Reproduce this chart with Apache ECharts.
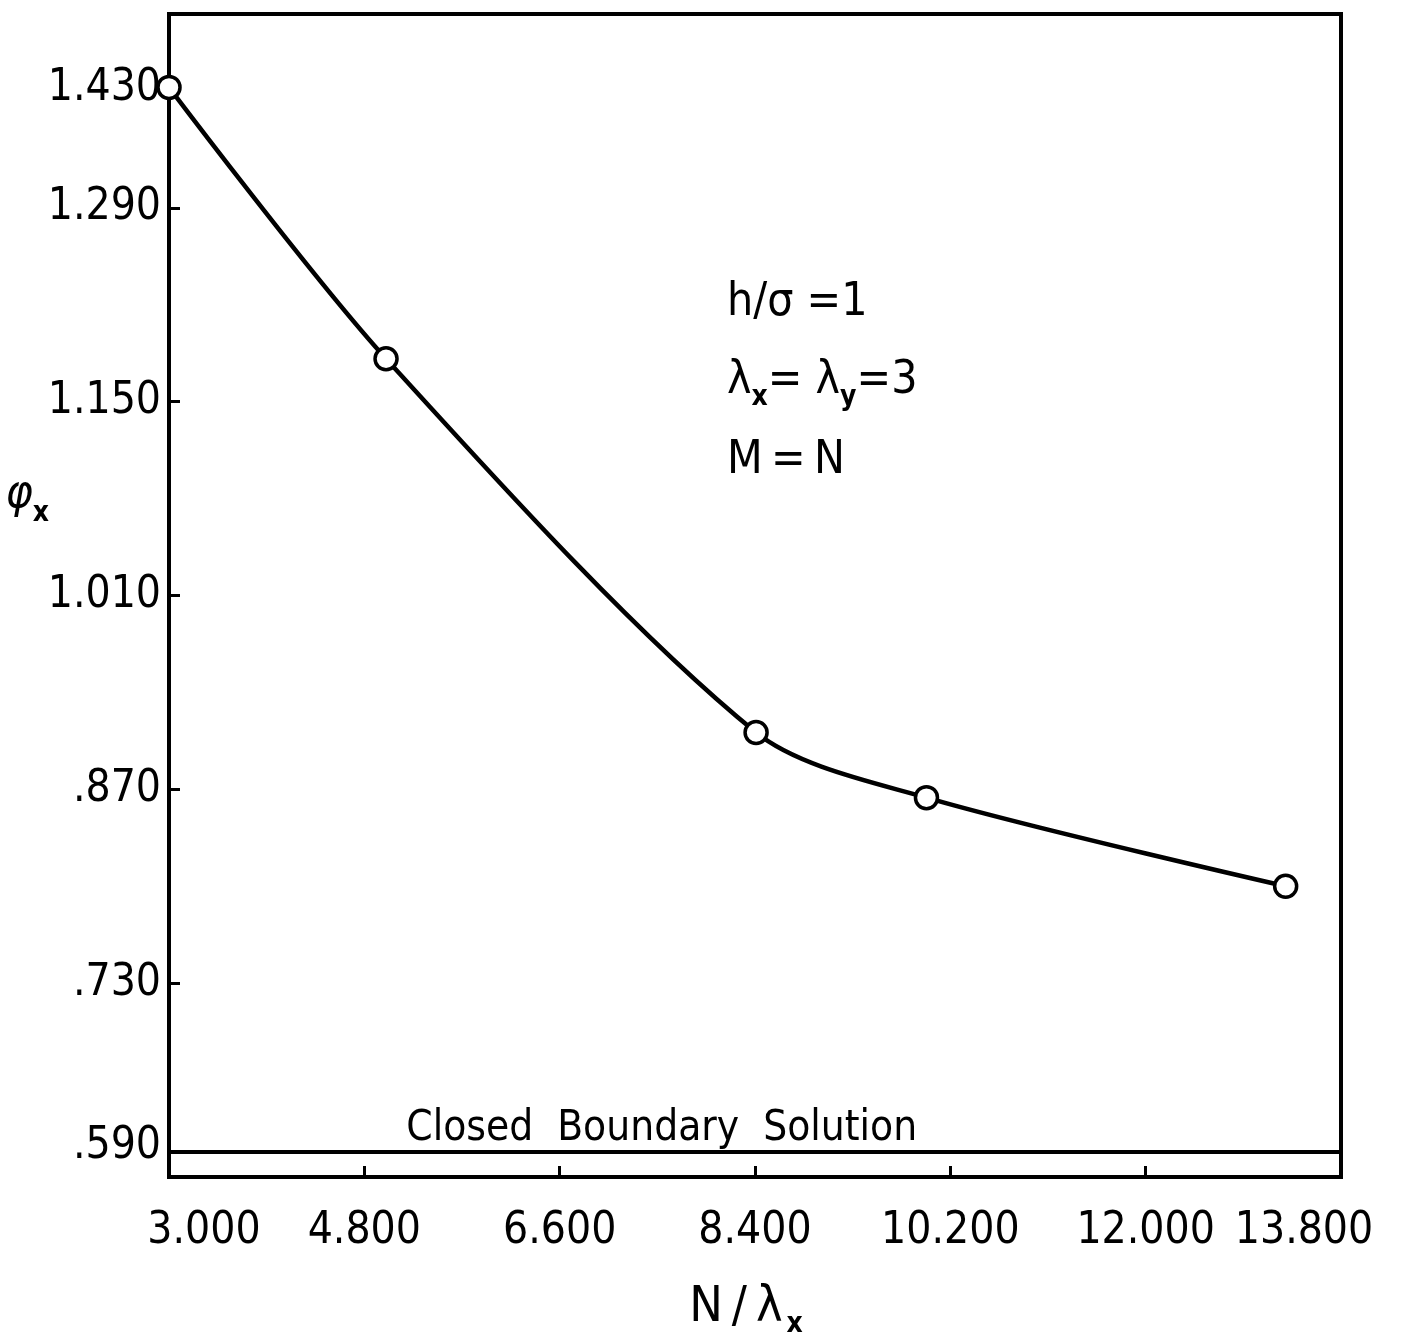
<!DOCTYPE html>
<html>
<head>
<meta charset="utf-8">
<script src="https://cdn.jsdelivr.net/npm/echarts@6/dist/echarts.min.js"></script>
<style>
html,body{margin:0;padding:0;background:#fff;}
#chart{width:1411px;height:1341px;}
</style>
</head>
<body>
<div id="chart"></div>
<script>
// ---- data ----
const nOverLambda = [3.0, 5.0, 8.41, 9.98, 13.29];
const phiX = [1.377, 1.181, 0.911, 0.864, 0.800];
const closedBoundary = 0.608;
const xTickLabels = ['3.000', '4.800', '6.600', '8.400', '10.200', '12.000', '13.800'];
const yTickLabels = ['.590', '.730', '.870', '1.010', '1.150', '1.290', '1.430'];
const annotations = ['h/σ =1', '{n|λ}{s|x}{n|= λ}{s|y}{n|=3}', 'M\u2009=\u2009N'];

const FONT = "'Liberation Sans Narrow','DejaVu Sans Condensed','Liberation Sans',sans-serif";
const FS = 44;

const chart = echarts.init(document.getElementById('chart'), null, {renderer: 'canvas'});

const curve = nOverLambda.map((x, i) => [x, phiX[i]]);
const boundary = [[3.0, closedBoundary], [13.8, closedBoundary]];

const option = {
  backgroundColor: '#fff',
  animation: false,
  grid: {left: 169, right: 70, top: 14, bottom: 164, containLabel: false, outerBoundsMode: 'none',
         show: true, borderColor: '#000', borderWidth: 4, backgroundColor: 'transparent'},
  xAxis: {
    type: 'value', min: 3.0, max: 13.8, interval: 1.8,
    axisLine: {show: false},
    splitLine: {show: false},
    axisTick: {show: true, inside: true, length: 11, lineStyle: {color: '#000', width: 3}},
    axisLabel: {
      margin: 33, color: '#000', fontFamily: FONT, fontSize: FS,
      formatter: function (v, i) {
        if (i === 0) return '{first|' + xTickLabels[i] + '}';
        if (i === xTickLabels.length - 1) return '{last|' + xTickLabels[i] + '}';
        return xTickLabels[i];
      },
      rich: {
        first: {fontFamily: FONT, fontSize: FS, color: '#000', padding: [0, 0, 0, 70]},
        last: {fontFamily: FONT, fontSize: FS, color: '#000', padding: [0, 74, 0, 0]}
      }
    },
    name: '{n|N\u2009/\u2009λ}{s|x}',
    nameLocation: 'middle',
    nameGap: 100,
    nameMoveOverlap: false,
    nameTextStyle: {
      rich: {
        n: {fontFamily: FONT, fontSize: 50, color: '#000'},
        s: {fontFamily: FONT, fontSize: 28, color: '#000', fontWeight: 'bold', padding: [34, 18, 0, 4]}
      }
    }
  },
  yAxis: {
    type: 'value', min: 0.59, max: 1.43, interval: 0.14,
    axisLine: {show: false},
    splitLine: {show: false},
    axisTick: {show: true, inside: true, length: 11, lineStyle: {color: '#000', width: 3}},
    axisLabel: {
      margin: 8, color: '#000', fontFamily: FONT, fontSize: FS,
      formatter: function (v, i) {
        if (i === 0) return '{bot|' + yTickLabels[i] + '}';
        if (i === yTickLabels.length - 1) return '{top|' + yTickLabels[i] + '}';
        return yTickLabels[i];
      },
      rich: {
        top: {fontFamily: FONT, fontSize: FS, color: '#000', padding: [150, 0, 0, 0]},
        bot: {fontFamily: FONT, fontSize: FS, color: '#000', padding: [0, 0, 60, 0]}
      }
    },
    name: '{n|φ}{s|x}',
    nameLocation: 'middle',
    nameRotate: 0,
    nameGap: 120,
    nameMoveOverlap: false,
    nameTextStyle: {
      rich: {
        n: {fontFamily: FONT, fontSize: 46, color: '#000', fontStyle: 'italic', padding: [0, 0, 200, 0]},
        s: {fontFamily: FONT, fontSize: 28, color: '#000', fontWeight: 'bold', padding: [0, 0, 164, 0]}
      }
    }
  },
  series: [
    {
      type: 'line',
      data: boundary,
      symbol: 'none',
      lineStyle: {color: '#000', width: 4},
      silent: true,
      z: 2
    },
    {
      type: 'scatter',
      data: [[7.54, closedBoundary]],
      symbolSize: 0,
      itemStyle: {opacity: 1},
      label: {
        show: true, position: 'top', distance: 2, opacity: 1,
        formatter: 'Closed  Boundary  Solution',
        fontFamily: FONT, fontSize: 42, color: '#000'
      },
      silent: true
    },
    {
      type: 'line',
      data: curve,
      smooth: 0.3,
      symbol: 'circle',
      symbolSize: 22,
      showAllSymbol: true,
      lineStyle: {color: '#000', width: 4.5},
      itemStyle: {color: '#fff', borderColor: '#000', borderWidth: 3.5},
      z: 3
    }
  ],
  graphic: [
    {type: 'text', left: 727, top: 280, style: {text: annotations[0], fontFamily: FONT, fontSize: 46, fill: '#000'}},
    {type: 'text', left: 727, top: 358, style: {text: annotations[1], rich: {
      n: {fontFamily: FONT, fontSize: 46, fill: '#000', color: '#000'},
      s: {fontFamily: FONT, fontSize: 28, fill: '#000', color: '#000', fontWeight: 'bold', padding: [34, 0, 0, 0]}
    }}},
    {type: 'text', left: 727, top: 438, style: {text: annotations[2], fontFamily: FONT, fontSize: 46, fill: '#000'}}
  ]
};

chart.setOption(option);
</script>
</body>
</html>
